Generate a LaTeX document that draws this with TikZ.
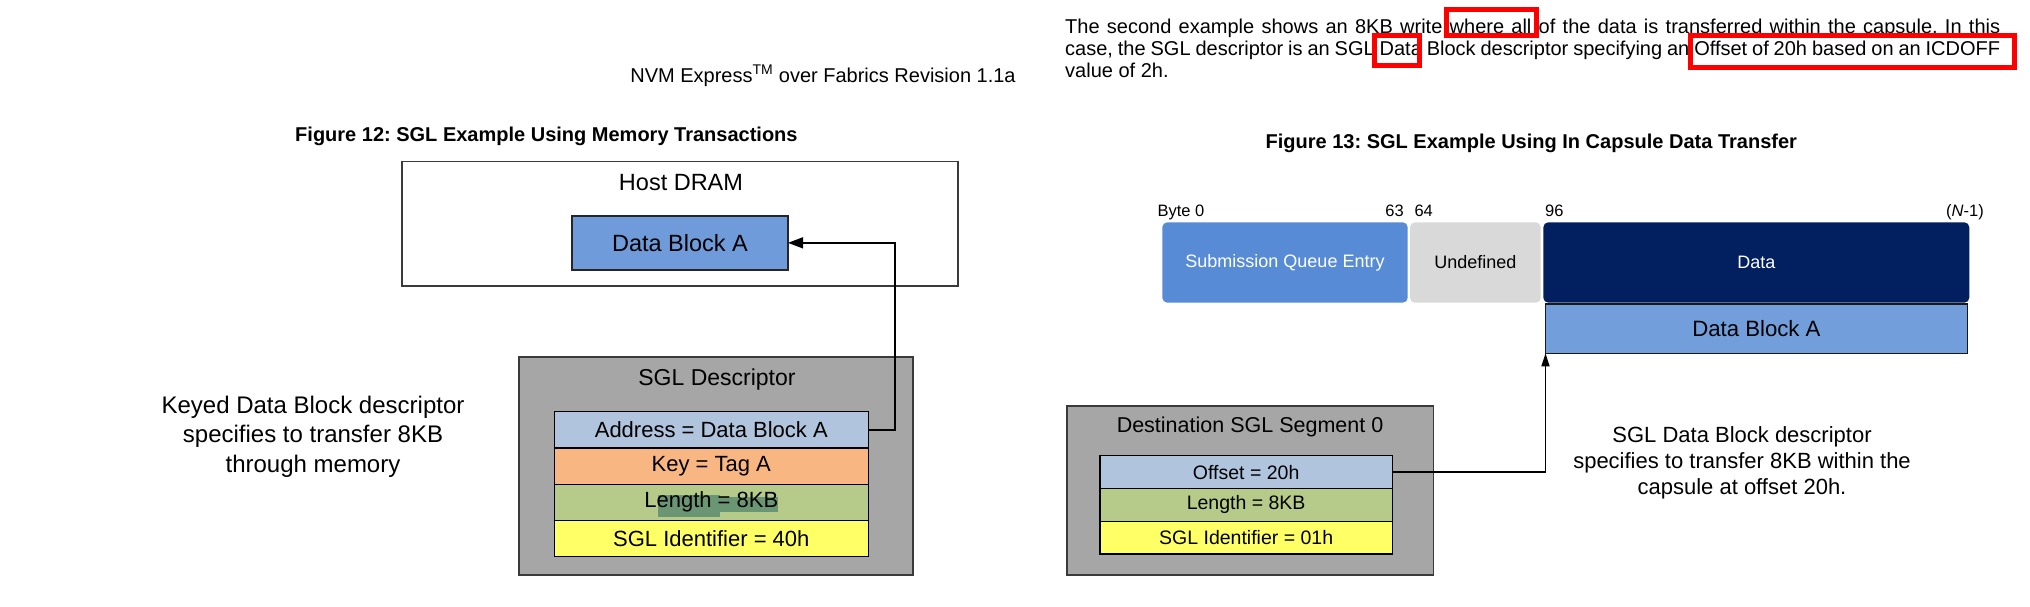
\documentclass[tikz,border=0pt]{standalone}
\usepackage{fontspec}
\setmainfont{Liberation Sans}
\usetikzlibrary{arrows.meta}
\definecolor{dkgray}{HTML}{3A3A3A}
\definecolor{boxgray}{HTML}{A6A6A6}
\definecolor{dbablue}{HTML}{6F9BDB}
\definecolor{dbablueR}{HTML}{729FDB}
\definecolor{addrc}{HTML}{B0C4DE}
\definecolor{keyc}{HTML}{F8B682}
\definecolor{lenc}{HTML}{B6CA89}
\definecolor{idc}{HTML}{FFFF66}
\definecolor{hlc}{HTML}{6B9673}
\definecolor{sqec}{HTML}{578BD6}
\definecolor{undefc}{HTML}{D9D9D9}
\definecolor{datac}{HTML}{022060}
\definecolor{redc}{HTML}{FF0000}
\newcommand\sz[2]{\fontsize{#1}{#2}\selectfont}
\frenchspacing
\begin{document}
\begin{tikzpicture}[x=1pt,y=-1pt,
  box/.style={draw=dkgray,line width=1.6pt,inner sep=0pt,outer sep=0pt},
  rowL/.style={draw=black,line width=1.3pt,inner sep=0pt,outer sep=0pt,minimum width=314pt,minimum height=36.25pt,font=\sz{22}{26}},
  rowR/.style={draw=black,line width=1.3pt,inner sep=0pt,outer sep=0pt,minimum width=292.3pt,minimum height=32.77pt,font=\sz{19.5}{23}},
  seg/.style={rounded corners=5pt,inner sep=0pt,outer sep=0pt,minimum height=80.4pt,font=\sz{18}{22}},
  blab/.style={inner sep=0pt,font=\sz{16.5}{20}},
  conn/.style={draw=black,line width=1.4pt},
  redbox/.style={draw=redc,line width=5pt},
  title/.style={inner sep=0pt,font=\bfseries\sz{20}{24}}]
\useasboundingbox[fill=white] (0,0) rectangle (2030,607);

% header and paragraph
\node[inner sep=0pt,font=\sz{20}{24}] (hdr) at (823,76) {NVM Express\textsuperscript{TM} over Fabrics Revision 1.1a};
\node[inner sep=0pt,anchor=base west,text width=935pt,align=justify,font=\sz{20}{22}] (para) at (1065,33.3)
 {The second example shows an 8KB write where all of the data is transferred within the capsule. In this\linebreak
 case, the SGL descriptor is an SGL Data Block descriptor specifying an Offset of 20h based on an ICDOFF\linebreak
 value of 2h.};
\draw[redbox] (1446.5,9.8) rectangle (1536.5,35.8);
\draw[redbox] (1374.2,35.2) rectangle (1419.8,65.8);
\draw[redbox] (1690.2,35.8) rectangle (2014.2,67.5);

% Figure 12
\node[title] (fig12) at (546.4,136.7) {Figure 12: SGL Example Using Memory Transactions};
\node[box,minimum width=556pt,minimum height=124.3pt] (host) at (680,223.85) {};
\node[inner sep=0pt,font=\sz{23.5}{28}] (hostlbl) at (681,183) {Host DRAM};
\node[box,draw=black!85,fill=dbablue,minimum width=216pt,minimum height=54.3pt,font=\sz{23.5}{28}] (dbaL) at (680,242.85) {Data Block A};

\node[box,fill=boxgray,minimum width=394pt,minimum height=218.3pt] (sgl) at (716,465.85) {};
\node[inner sep=0pt,font=\sz{23}{28}] (sgllbl) at (717,380) {SGL Descriptor};
\node[rowL,fill=addrc] (addr) at (711.3,429.8) {Address = Data Block A};
\node[rowL,fill=keyc] (key) at (711.3,466.05) {Key = Tag A};
\node[rowL,fill=lenc] (len) at (711.3,502.3) {};
\fill[hlc] (658.3,495) rectangle (720,516.7);
\fill[hlc] (720,496.7) rectangle (778.3,511.7);
\node[inner sep=0pt,font=\sz{22}{26}] (lentxt) at (len.center) {Length = 8KB};
\node[rowL,fill=idc] (idL) at (711.3,538.55) {SGL Identifier = 40h};

\draw[conn,-{Triangle[length=15pt,width=11pt]}] (addr.east) -- ++(26.7,0) |- (dbaL.east);

\node[inner sep=0pt,align=center,font=\sz{24}{29.7}] (keyed) at (313,436.5)
 {Keyed Data Block descriptor\\specifies to transfer 8KB\\through memory};

% Figure 13
\node[title] (fig13) at (1531.3,143.3) {Figure 13: SGL Example Using In Capsule Data Transfer};
\node[blab,anchor=base west] (b0) at (1157.3,216.5) {Byte 0};
\node[blab,anchor=base east] (b63) at (1404,216.5) {63};
\node[blab,anchor=base west] (b64) at (1414.3,216.5) {64};
\node[blab,anchor=base west] (b96) at (1545,216.5) {96};
\node[blab,anchor=base east] (bn) at (1984,216.5) {(\textit{N}-1)};

\node[seg,fill=sqec,text=white,minimum width=245.4pt] (sqe) at (1285,262.5) {Submission Queue Entry};
\node[seg,fill=undefc,minimum width=130.7pt] (undef) at (1475.35,262.5) {Undefined};
\node[seg,fill=datac,text=white,minimum width=426pt] (data) at (1756.3,262.5) {Data};
\node[draw=black!90,line width=1.3pt,fill=dbablueR,inner sep=0pt,outer sep=0pt,minimum width=421.8pt,minimum height=49.3pt,font=\sz{22.2}{26}] (dbaR) at (1756.4,328.65) {Data Block A};

\node[box,fill=boxgray,minimum width=366.6pt,minimum height=169pt] (dest) at (1250,490.5) {};
\node[inner sep=0pt,font=\sz{21.5}{26}] (destlbl) at (1250,427.3) {Destination SGL Segment 0};
\node[rowR,fill=addrc] (off) at (1246.15,472.08) {Offset = 20h};
\node[rowR,fill=lenc] (lenR) at (1246.15,504.85) {Length = 8KB};
\node[rowR,fill=idc] (idR) at (1246.15,537.6) {SGL Identifier = 01h};

\draw[conn,-{Triangle[length=13pt,width=8pt]}] (off.east) -| (dbaR.south west);

\node[inner sep=0pt,align=center,font=\sz{22}{26.3}] (sgltxt) at (1742,463)
 {SGL Data Block descriptor\\specifies to transfer 8KB within the\\capsule at offset 20h.};
\end{tikzpicture}
\end{document}
